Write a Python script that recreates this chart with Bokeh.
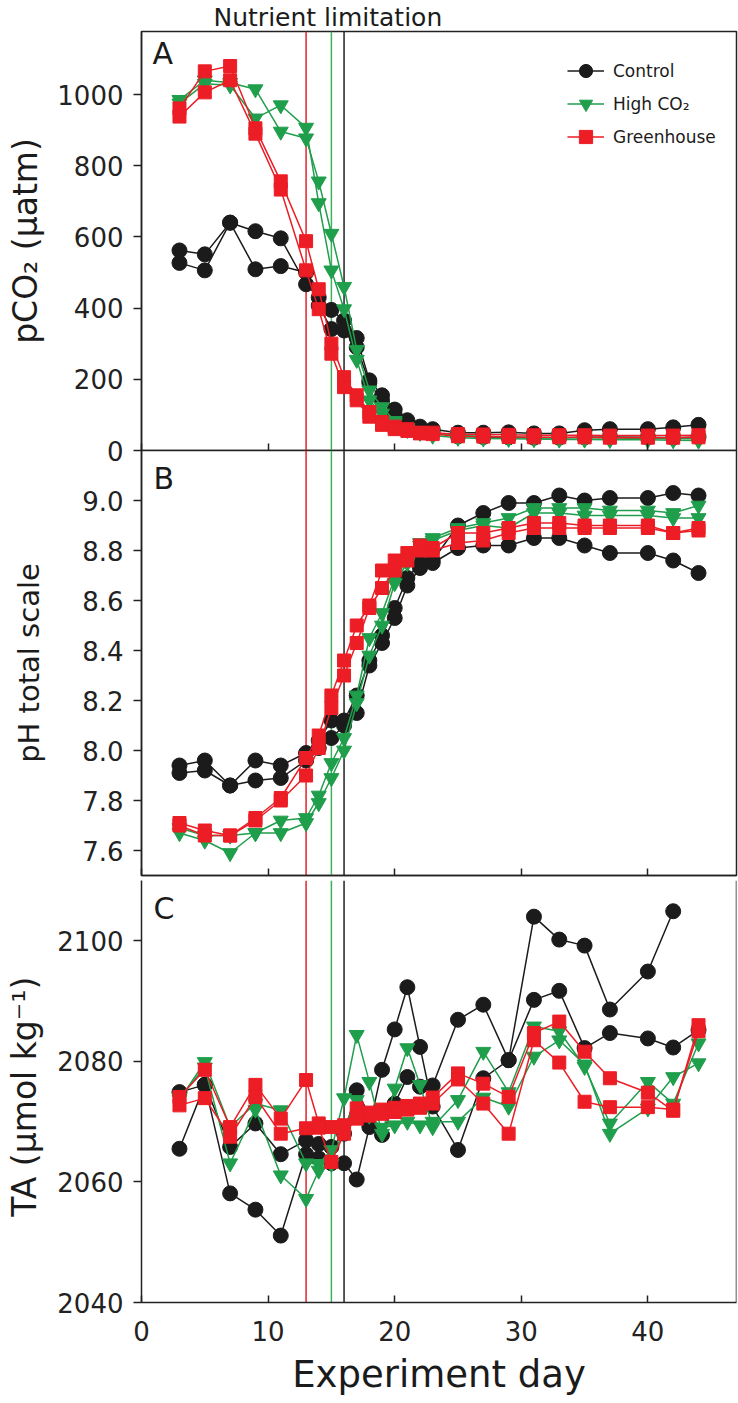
from bokeh.plotting import figure
from bokeh.layouts import column
from bokeh.models import (ColumnDataSource, Span, Label, Legend, LegendItem, Title,
                          FixedTicker, PrintfTickFormatter, Range1d)
from bokeh.embed import file_html
from bokeh.resources import INLINE

FONT = "DejaVu Sans"
NaN = float("nan")

# ---------------- data ----------------
days = [3, 5, 7, 9, 11, 13, 14, 15, 16, 17, 18, 19, 20, 21, 22, 23, 25, 27, 29, 31, 33, 35, 37, 40, 42, 44]

# Panel A: pCO2 (uatm)
pco2_control_1 = [562, 551, 640, 616, 596, 467, 430, 395, 365, 316, 197, 155, 115, 85, 67, 60, 50, 50, 51, 48, 48, 57, 60, 60, 65, 72]
pco2_control_2 = [527, 506, 640, 509, 518, 500, 407, 341, 337, 290, 190, 140, 100, 75, 58, 50, 40, 38, 37, 36, 36, 37, 38, 37, 36, 38]
pco2_high_1 = [985, 1040, 1033, 1015, 896, 877, 756, 609, 460, 283, 169, 122, 83, 63, 55, 48, 42, 40, 38, 37, 36, 36, 35, 34, 34, 33]
pco2_high_2 = [975, 1030, 1026, 933, 970, 907, 695, 506, 397, 255, 141, 104, 77, 58, 50, 42, 36, 34, 33, 32, 31, 31, 30, 30, 29, 28]
pco2_green_1 = [961, 1065, 1080, 905, 756, 588, 453, 300, 206, 155, 108, 80, 67, 60, 50, 50, 46, 45, 44, 43, 43, 43, 42, 42, 42, 43]
pco2_green_2 = [938, 1006, 1040, 890, 733, 506, 397, 272, 178, 141, 95, 72, 60, 55, 48, 46, 40, 39, 38, 37, 37, 37, 36, 36, 36, 37]

# Panel B: pH total scale
ph_control_1 = [7.94, 7.96, 7.86, 7.96, 7.94, 7.99, 8.04, 8.12, 8.12, 8.22, 8.36, 8.46, 8.57, 8.69, 8.75, 8.76, 8.90, 8.95, 8.99, 8.99, 9.02, 9.00, 9.01, 9.01, 9.03, 9.02]
ph_control_2 = [7.91, 7.92, 7.86, 7.88, 7.89, 7.96, 8.01, 8.05, 8.10, 8.15, 8.34, 8.43, 8.53, 8.66, 8.73, 8.75, 8.81, 8.82, 8.82, 8.85, 8.85, 8.82, 8.79, 8.79, 8.76, 8.71]
ph_high_1 = [7.69, 7.66, 7.66, 7.67, 7.72, 7.73, 7.82, 7.95, 8.05, 8.22, 8.45, 8.55, 8.69, 8.76, 8.83, 8.85, 8.89, 8.91, 8.93, 8.97, 8.97, 8.97, 8.96, 8.96, 8.95, 8.98]
ph_high_2 = [7.67, 7.64, 7.59, 7.67, 7.67, 7.71, 7.79, 7.89, 8.00, 8.19, 8.38, 8.50, 8.67, 8.75, 8.82, 8.84, 8.88, 8.90, 8.89, 8.95, 8.95, 8.94, 8.94, 8.94, 8.93, 8.93]
ph_green_1 = [7.71, 7.68, 7.66, 7.73, 7.81, 7.97, 8.06, 8.22, 8.36, 8.50, 8.58, 8.72, 8.76, 8.79, 8.82, 8.81, 8.87, 8.87, 8.89, 8.91, 8.91, 8.90, 8.90, 8.90, 8.87, 8.89]
ph_green_2 = [7.70, 7.66, 7.66, 7.72, 7.80, 7.90, 8.01, 8.17, 8.30, 8.43, 8.57, 8.65, 8.72, 8.76, 8.80, 8.80, 8.83, 8.84, 8.87, 8.89, 8.89, 8.89, 8.89, 8.89, 8.87, 8.88]

# Panel C: TA (umol/kg)
ta_control_1 = [2065.5, 2076.1, 2058.1, 2055.4, 2051.1, 2064.6, 2063.9, 2063.1, 2063.1, 2060.4, 2069.1, 2078.6, 2085.3, 2092.3, 2082.4, 2072.5, 2065.3, 2077.2, 2080.2, 2090.2, 2091.7, 2082.2, 2084.7, 2083.8, 2082.3, 2085.2]
ta_control_2 = [2074.9, 2076.1, 2065.8, 2069.7, 2064.6, 2066.9, 2066.3, 2065.8, 2068.0, 2075.2, 2071.0, 2067.8, 2073.0, 2077.4, 2075.8, 2076.0, 2086.9, 2089.4, 2080.2, 2104.0, 2100.2, 2099.2, 2088.6, 2094.9, 2104.9, NaN]
ta_high_1 = [2073.6, 2079.9, 2069.1, 2073.0, 2071.9, 2063.1, 2063.0, 2065.3, 2073.9, 2084.4, 2076.6, 2068.0, 2075.5, 2082.2, 2076.1, 2069.1, 2073.6, 2081.6, 2074.9, 2085.8, 2085.0, 2079.1, 2069.7, 2076.6, 2073.0, 2083.0]
ta_high_2 = [2074.0, 2079.0, 2063.1, 2072.0, 2061.1, 2057.2, 2061.9, 2063.0, 2069.1, 2073.6, 2071.0, 2069.0, 2069.4, 2070.0, 2069.4, 2070.0, 2070.0, 2074.0, 2072.5, 2080.8, 2083.5, 2079.5, 2068.0, 2072.2, 2077.4, 2079.7]
ta_green_1 = [2074.1, 2078.6, 2069.1, 2076.1, 2070.5, 2076.9, 2069.7, 2069.1, 2069.4, 2072.2, 2071.5, 2072.0, 2072.3, 2072.6, 2073.0, 2074.0, 2078.0, 2076.3, 2074.1, 2084.7, 2086.6, 2081.6, 2077.2, 2074.8, 2071.8, 2086.0]
ta_green_2 = [2072.7, 2073.9, 2067.5, 2074.1, 2068.0, 2068.9, 2069.0, 2063.3, 2068.0, 2070.5, 2071.0, 2071.3, 2071.6, 2072.0, 2072.3, 2073.0, 2077.0, 2073.0, 2068.0, 2083.5, 2079.8, 2073.3, 2072.4, 2072.4, 2072.0, 2085.0]

limit_days = {"Greenhouse": 13, "High CO2": 15, "Control": 16}
x_ticks = [0, 10, 20, 30, 40]
pco2_ticks = [0, 200, 400, 600, 800, 1000]
ph_ticks = [7.6, 7.8, 8.0, 8.2, 8.4, 8.6, 8.8, 9.0]
ta_ticks = [2040, 2060, 2080, 2100]

# ---------------- style / layout ----------------
BLACK = "#1b1b1b"
GREEN = "#1f9e4b"
RED = "#ec1d25"
VLINE = {"Greenhouse": "#e0242b", "High CO2": "#3cb35a", "Control": "#222222"}
AX = "#222222"

X0, X1 = 0, 47
FRAME_LEFT = 141
FRAME_W = 595
W = 738
OVERLAP = 18  # panel B's canvas overlaps A's bottom border so A's "0" label stays whole


def to_x(px):
    return X0 + (px - FRAME_LEFT) * (X1 - X0) / FRAME_W


def make_panel(height, top_b, bottom_b, frame_top, frame_h, y0, y1, yticks, ylabel,
               ylabel_size, ylabel_standoff, fmt=None, **kw):
    p = figure(width=W, height=height, x_range=Range1d(X0, X1), y_range=Range1d(y0, y1),
               output_backend="svg", toolbar_location=None,
               min_border_left=FRAME_LEFT,
               min_border_right=W - FRAME_LEFT - FRAME_W,
               min_border_top=top_b, min_border_bottom=bottom_b, **kw)
    p.grid.visible = False
    p.outline_line_color = AX
    p.outline_line_width = 1.5
    p.outline_line_alpha = 1.0
    for ax in (p.xaxis[0], p.yaxis[0]):
        ax.axis_line_color = AX
        ax.axis_line_width = 1.5
        ax.major_tick_line_color = AX
        ax.major_tick_line_width = 1.5
        ax.minor_tick_in = 0
        ax.minor_tick_out = 0
        ax.major_label_text_font = FONT
        ax.major_label_text_color = "#222222"
    p.xaxis.ticker = FixedTicker(ticks=x_ticks)
    p.xaxis.major_tick_in = 7
    p.xaxis.major_tick_out = 0
    p.yaxis.ticker = FixedTicker(ticks=yticks)
    p.yaxis.major_tick_in = 0
    p.yaxis.major_tick_out = 8
    p.yaxis.major_label_standoff = 10
    p.yaxis.major_label_text_font_size = "26px"
    p.yaxis.axis_label = ylabel
    p.yaxis.axis_label_text_font = FONT
    p.yaxis.axis_label_text_font_size = ylabel_size
    p.yaxis.axis_label_text_font_style = "normal"
    p.yaxis.axis_label_text_color = "#1b1b1b"
    p.yaxis.axis_label_standoff = ylabel_standoff
    if fmt:
        p.yaxis.formatter = PrintfTickFormatter(format=fmt)

    fb = frame_top + frame_h

    def to_y(py):
        return y0 + (fb - py) * (y1 - y0) / frame_h
    for name, d in limit_days.items():
        p.add_layout(Span(location=d, dimension="height", line_color=VLINE[name],
                          line_width=1.5, level="underlay"))
    return p, to_y


def draw(p, a1, a2, color, marker, size):
    rends = []
    for arr in (a1, a2):
        src = ColumnDataSource(dict(x=days, y=arr))
        l = p.line("x", "y", source=src, line_color=color, line_width=1.5)
        s = p.scatter("x", "y", source=src, marker=marker, size=size,
                      fill_color=color, line_color=color)
        rends.append((l, s))
    return rends[0]


def panel_letter(p, to_y, txt, px, py):
    p.add_layout(Label(x=to_x(px), y=to_y(py), text=txt, text_font=FONT,
                       text_font_size="30px", text_color="#1b1b1b",
                       text_align="left", text_baseline="alphabetic"))


# ---------- Panel A ----------
pa, ya = make_panel(29 + 421 + OVERLAP, 29, OVERLAP, 29, 421, 0, 1177, pco2_ticks,
                    "pCO\u2082 (\u00b5atm)", "33px", 9)
pa.xaxis.major_label_text_font_size = "0px"
pa.xaxis.major_label_standoff = 0
pa.add_layout(Title(text="Nutrient limitation", align="left", offset=72, standoff=0,
                    text_font=FONT, text_font_size="25px", text_font_style="normal",
                    text_color="#1b1b1b"), "above")
ctrl_r = draw(pa, pco2_control_1, pco2_control_2, BLACK, "circle", 15)
high_r = draw(pa, pco2_high_1, pco2_high_2, GREEN, "inverted_triangle", 15)
green_r = draw(pa, pco2_green_1, pco2_green_2, RED, "square", 13)
panel_letter(pa, ya, "A", 152, 51)
legend = Legend(items=[LegendItem(label="Control", renderers=list(ctrl_r)),
                       LegendItem(label="High CO\u2082", renderers=list(high_r)),
                       LegendItem(label="Greenhouse", renderers=list(green_r))],
                location=(426, 297), orientation="vertical",
                glyph_width=37, glyph_height=33, label_height=33, spacing=0,
                padding=0, margin=0, label_standoff=9,
                border_line_color=None, background_fill_alpha=0,
                label_text_font=FONT, label_text_font_size="17px",
                label_text_color="#1b1b1b", label_text_baseline="middle")
pa.add_layout(legend)

# ---------- Panel B ----------
pb, yb = make_panel(430, 0, 5, 450, 425, 7.5, 9.2, ph_ticks,
                    "pH total scale", "29px", 33, "%.1f", margin=(-OVERLAP, 0, 0, 0))
pb.border_fill_alpha = 0
pb.xaxis.major_label_text_font_size = "0px"
pb.xaxis.major_label_standoff = 0
draw(pb, ph_control_1, ph_control_2, BLACK, "circle", 15)
draw(pb, ph_high_1, ph_high_2, GREEN, "inverted_triangle", 15)
draw(pb, ph_green_1, ph_green_2, RED, "square", 13)
panel_letter(pb, yb, "B", 153, 478)

# ---------- Panel C ----------
pc, yc = make_panel(523, 0, 101, 880, 422, 2040, 2110, ta_ticks,
                    "TA  (\u00b5mol kg\u207b\u00b9)", "33px", 10)
pc.outline_line_color = None
pc.add_layout(Span(location=X1, dimension="height", line_color=AX, line_width=1.5))
pc.xaxis.major_label_text_font_size = "26px"
pc.xaxis.major_label_standoff = 18
pc.xaxis.axis_label = "Experiment day"
pc.xaxis.axis_label_text_font = FONT
pc.xaxis.axis_label_text_font_size = "37px"
pc.xaxis.axis_label_text_font_style = "normal"
pc.xaxis.axis_label_text_color = "#1b1b1b"
pc.xaxis.axis_label_standoff = 9
draw(pc, ta_control_1, ta_control_2, BLACK, "circle", 15)
draw(pc, ta_high_1, ta_high_2, GREEN, "inverted_triangle", 15)
draw(pc, ta_green_1, ta_green_2, RED, "square", 13)
panel_letter(pc, yc, "C", 153, 908)

layout = column(pa, pb, pc, spacing=0)
open("out.html", "w").write(file_html(layout, INLINE))
